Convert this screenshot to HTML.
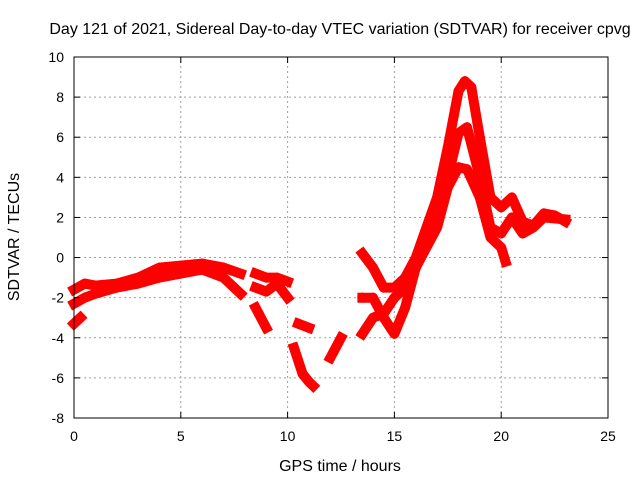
<!DOCTYPE html>
<html><head><meta charset="utf-8"><style>
body{margin:0;background:#fff;}
svg text{font-family:"Liberation Sans",sans-serif;font-size:14px;fill:#000;}
svg text.big{font-size:16px;}
</style></head><body>
<svg id="chart" width="640" height="480" xmlns="http://www.w3.org/2000/svg">
<rect width="640" height="480" fill="#fff"/>
<text class="big" x="340" y="34" text-anchor="middle">Day 121 of 2021, Sidereal Day-to-day VTEC variation (SDTVAR) for receiver cpvg</text>
<text class="big" x="340" y="471" text-anchor="middle">GPS time / hours</text>
<text class="big" transform="translate(19,237) rotate(-90)" text-anchor="middle">SDTVAR / TECUs</text>
<g id="grid"></g><g id="series"></g><g id="axes"></g>
</svg>
<script>
const xTicks=[0,5,10,15,20,25];
const yTicks=[-8,-6,-4,-2,0,2,4,6,8,10];
const traceAx=[0,0.5,1,2,3,4,5,6,7,7.8,null,8.5,9,9.5,10,null,13.5,14,14.5,15,15.5,16,16.5,17,17.5,18,18.3,18.6,19,19.5,20,20.5,21,21.5,22,22.5,23];
const traceAy=[-1.6,-1.3,-1.4,-1.3,-1.0,-0.5,-0.4,-0.3,-0.5,-0.8,null,-0.8,-1.0,-1.0,-1.2,null,0.2,-0.5,-1.5,-1.5,-1.0,0,1.5,3,5.5,8.3,8.8,8.5,6,3,2.5,3.0,1.8,1.6,2.2,2.1,1.8];
const traceBx=[0,0.5,1,2,3,4,5,6,7,7.8,null,8.5,9,9.5,10,null,10.5,11,null,13.5,14,14.5,15,15.5,16,16.5,17,17.5,18,18.4,19,19.5,20,20.5,21,21.5,22,23];
const traceBy=[-2.3,-2.0,-1.8,-1.5,-1.3,-1.0,-0.8,-0.6,-1.0,-1.8,null,-1.5,-1.7,-1.3,-2.0,null,-3.3,-3.5,null,-2,-2,-3,-3.8,-2.5,-0.5,1,2,4,6.2,6.5,4,1.5,1.2,2.0,1.2,1.5,2,1.9];
const traceCx=[0,0.3,null,8.5,9,null,10.3,10.7,11,11.2,null,12,12.5,null,13.5,14,14.5,15,15.5,16,16.5,17,17.5,18,18.4,19,19.5,20,20.2];
const traceCy=[-3.3,-3.0,null,-2.5,-3.5,null,-4.5,-5.8,-6.2,-6.4,null,-5,-4,null,-3.8,-3,-2.8,-2,-1.5,-0.5,0.5,1.5,3.5,4.5,4.4,3,1.0,0.5,-0.2];
const X0=74,X1=608,Y0=418,Y1=57;
const sx=v=>X0+(v-0)/25*(X1-X0);
const sy=v=>Y0-(v+8)/18*(Y0-Y1);
const NS="http://www.w3.org/2000/svg";
function mk(tag,attrs,parent){const e=document.createElementNS(NS,tag);for(const k in attrs)e.setAttribute(k,attrs[k]);parent.appendChild(e);return e;}
const grid=document.getElementById('grid'),axes=document.getElementById('axes'),ser=document.getElementById('series');
xTicks.forEach(t=>{
 if(t>0&&t<25){const g=mk('line',{x1:sx(t),x2:sx(t),y1:Y0,y2:Y1,stroke:'#a0a0a0','stroke-dasharray':'2,3'},grid);
 
 }
 mk('line',{x1:sx(t),x2:sx(t),y1:Y0,y2:Y0-6,stroke:'#000'},axes);
 mk('line',{x1:sx(t),x2:sx(t),y1:Y1,y2:Y1+6,stroke:'#000'},axes);
 const l=mk('text',{x:sx(t),y:Y0+23,'text-anchor':'middle'},axes);l.textContent=t;
 
 
});
yTicks.forEach(t=>{
 if(t>-8&&t<10){const g=mk('line',{x1:X0,x2:X1,y1:sy(t),y2:sy(t),stroke:'#a0a0a0','stroke-dasharray':'2,3'},grid);
 
 }
 mk('line',{x1:X0,x2:X0+6,y1:sy(t),y2:sy(t),stroke:'#000'},axes);
 mk('line',{x1:X1,x2:X1-6,y1:sy(t),y2:sy(t),stroke:'#000'},axes);
 const l=mk('text',{x:X0-10,y:sy(t)+5,'text-anchor':'end'},axes);l.textContent=t;
 
 
});
const fr=mk('rect',{x:X0,y:Y1,width:X1-X0,height:Y0-Y1,fill:'none',stroke:'#000'},axes);


function drawTrace(xs,ys,name){
 const g=mk('g',{},ser);
 
 
 let d='',pen=false;
 for(let i=0;i<xs.length;i++){
  if(xs[i]===null){pen=false;continue;}
  d+=(pen?'L':'M')+sx(xs[i]).toFixed(1)+','+sy(ys[i]).toFixed(1);pen=true;
  const p=mk('path',{d:`M${sx(xs[i])-5},${sy(ys[i])}h10M${sx(xs[i])},${sy(ys[i])-5}v10`,stroke:'#f00','stroke-width':2},g);
  
  
 }
 mk('path',{d:d,fill:'none',stroke:'#f00','stroke-width':10,'stroke-linejoin':'round','stroke-linecap':'square'},g);
}
drawTrace(traceAx,traceAy,'trace-upper');
drawTrace(traceBx,traceBy,'trace-middle');
drawTrace(traceCx,traceCy,'trace-lower');
</script>
</body></html>
